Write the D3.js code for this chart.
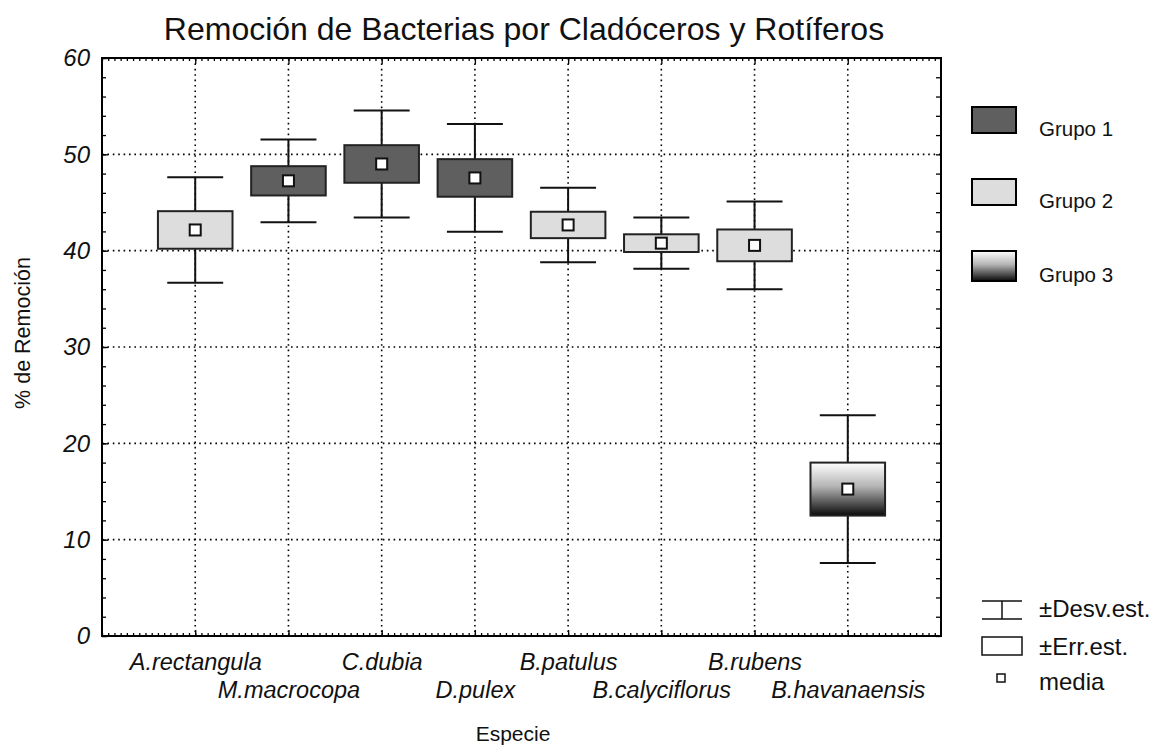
<!DOCTYPE html>
<html>
<head>
<meta charset="utf-8">
<script src="https://cdn.jsdelivr.net/npm/d3@7"></script>
<style>
  body { margin: 0; background: #fff; }
  text { font-family: "Liberation Sans", Arial, Helvetica, sans-serif; fill: #111; }
</style>
</head>
<body>
<div id="chart"></div>
<script>
// data
const species = ["A.rectangula", "M.macrocopa", "C.dubia", "D.pulex",
  "B.patulus", "B.calyciflorus", "B.rubens", "B.havanaensis"];
const means = [42.15, 47.25, 49.0, 47.55, 42.67, 40.78, 40.55, 15.25];
const errEst = [1.95, 1.52, 1.95, 1.95, 1.37, 0.92, 1.65, 2.75];
const desvEst = [5.47, 4.29, 5.55, 5.59, 3.87, 2.65, 4.55, 7.66];
const groups = [2, 1, 1, 1, 2, 2, 2, 3];
const groupLabels = ["Grupo 1", "Grupo 2", "Grupo 3"];
const statLabels = ["±Desv.est.", "±Err.est.", "media"];
const yTicks = [0, 10, 20, 30, 40, 50, 60];

const width = 1158, height = 748;
const margin = { top: 58, right: 217, bottom: 112, left: 102 };
const plotW = width - margin.left - margin.right;
const plotH = height - margin.top - margin.bottom;

const svg = d3.select("#chart").append("svg")
  .attr("width", width)
  .attr("height", height);

// gradient for group 3
const defs = svg.append("defs");
const grad = defs.append("linearGradient")
  .attr("id", "g3").attr("x1", 0).attr("y1", 0).attr("x2", 0).attr("y2", 1);
grad.append("stop").attr("offset", "0%").attr("stop-color", "#ffffff");
grad.append("stop").attr("offset", "45%").attr("stop-color", "#b4b4b4");
grad.append("stop").attr("offset", "100%").attr("stop-color", "#0a0a0a");

const fills = { 1: "#5f5f5f", 2: "#dddddd", 3: "url(#g3)" };

const g = svg.append("g")
  .attr("transform", "translate(" + margin.left + "," + margin.top + ")");

const x = d3.scalePoint().domain(species).range([0, plotW]).padding(1);
const y = d3.scaleLinear().domain([0, 60]).range([plotH, 0]);

// dotted grid
g.append("g").selectAll("line")
  .data(yTicks.filter(d => d > 0 && d < 60))
  .enter().append("line")
  .attr("x1", 0).attr("x2", plotW)
  .attr("y1", d => y(d)).attr("y2", d => y(d))
  .attr("stroke", "#000").attr("stroke-width", 1.6)
  .attr("stroke-dasharray", "1.6,3.8");
g.append("g").selectAll("line")
  .data(species)
  .enter().append("line")
  .attr("x1", d => x(d)).attr("x2", d => x(d))
  .attr("y1", 0).attr("y2", plotH)
  .attr("stroke", "#000").attr("stroke-width", 1.6)
  .attr("stroke-dasharray", "1.6,3.8");

// axes (ticks pointing inward)
const yMinor = d3.range(0, 61, 2);
const xMinor = d3.range(0, plotW, x.step() / 15);
const xm = d3.scaleLinear().domain([0, plotW]).range([0, plotW]);

const left = g.append("g")
  .call(d3.axisLeft(y).tickValues(yTicks).tickSizeInner(-6).tickSizeOuter(0).tickPadding(12));
left.selectAll("text")
  .style("font-size", "24px").style("font-style", "italic");
g.append("g")
  .call(d3.axisLeft(y).tickValues(yMinor).tickSize(-4).tickFormat(""));
g.append("g").attr("transform", "translate(" + plotW + ",0)")
  .call(d3.axisRight(y).tickValues(yMinor).tickSize(-5).tickFormat(""));

const bottom = g.append("g").attr("transform", "translate(0," + plotH + ")")
  .call(d3.axisBottom(x).tickSizeInner(-6).tickSizeOuter(0));
bottom.selectAll("text")
  .style("font-size", "23.5px").style("font-style", "italic")
  .attr("dy", null)
  .attr("y", (d, i) => i % 2 === 0 ? 34 : 62);
g.append("g").attr("transform", "translate(0," + plotH + ")")
  .call(d3.axisBottom(xm).tickValues(xMinor).tickSize(-3).tickFormat(""));
g.append("g")
  .call(d3.axisTop(x).tickSize(-6).tickFormat(""));
g.append("g")
  .call(d3.axisTop(xm).tickValues(xMinor).tickSize(-3).tickFormat(""));

g.selectAll(".domain").remove();
g.selectAll(".tick line").attr("stroke", "#000").attr("stroke-width", 1.3);

// frame
g.append("rect")
  .attr("width", plotW).attr("height", plotH)
  .attr("fill", "none").attr("stroke", "#000").attr("stroke-width", 2);

// boxes
const boxW = x.step() * 0.8;
const capW = x.step() * 0.6;
const items = g.append("g").selectAll("g")
  .data(species.map((s, i) => ({ s: s, m: means[i], se: errEst[i], sd: desvEst[i], grp: groups[i] })))
  .enter().append("g");

items.append("line")
  .attr("x1", d => x(d.s)).attr("x2", d => x(d.s))
  .attr("y1", d => y(d.m + d.sd)).attr("y2", d => y(d.m - d.sd))
  .attr("stroke", "#111").attr("stroke-width", 2);
items.append("line")
  .attr("x1", d => x(d.s) - capW / 2).attr("x2", d => x(d.s) + capW / 2)
  .attr("y1", d => y(d.m + d.sd)).attr("y2", d => y(d.m + d.sd))
  .attr("stroke", "#111").attr("stroke-width", 2);
items.append("line")
  .attr("x1", d => x(d.s) - capW / 2).attr("x2", d => x(d.s) + capW / 2)
  .attr("y1", d => y(d.m - d.sd)).attr("y2", d => y(d.m - d.sd))
  .attr("stroke", "#111").attr("stroke-width", 2);
items.append("rect")
  .attr("x", d => x(d.s) - boxW / 2)
  .attr("y", d => y(d.m + d.se))
  .attr("width", boxW)
  .attr("height", d => y(d.m - d.se) - y(d.m + d.se))
  .attr("fill", d => fills[d.grp])
  .attr("stroke", "#222").attr("stroke-width", 2);
items.append("rect")
  .attr("x", d => x(d.s) - 5.5).attr("y", d => y(d.m) - 5.5)
  .attr("width", 11).attr("height", 11)
  .attr("fill", "#fff").attr("stroke", "#111").attr("stroke-width", 2);

// titles
svg.append("text")
  .attr("x", 524).attr("y", 40)
  .attr("text-anchor", "middle")
  .style("font-size", "32px")
  .text("Remoción de Bacterias por Cladóceros y Rotíferos");
svg.append("text")
  .attr("transform", "translate(30," + 333 + ") rotate(-90)")
  .attr("text-anchor", "middle")
  .style("font-size", "21.5px")
  .text("% de Remoción");
svg.append("text")
  .attr("x", 513).attr("y", 741)
  .attr("text-anchor", "middle")
  .style("font-size", "21px")
  .text("Especie");

// group legend
const leg = svg.append("g").attr("transform", "translate(972,107)");
const legItems = leg.selectAll("g")
  .data(groupLabels)
  .enter().append("g")
  .attr("transform", (d, i) => "translate(0," + i * 72 + ")");
legItems.append("rect")
  .attr("width", 44).attr("height", (d, i) => i === 2 ? 30 : 26)
  .attr("fill", (d, i) => fills[i + 1])
  .attr("stroke", "#000").attr("stroke-width", 2);
legItems.append("text")
  .attr("x", 67).attr("y", (d, i) => i === 2 ? 31 : 29)
  .style("font-size", "20.5px")
  .text(d => d);

// statistic legend
const leg2 = svg.append("g").attr("transform", "translate(982,0)");
leg2.append("line").attr("x1", 0).attr("x2", 40).attr("y1", 601).attr("y2", 601)
  .attr("stroke", "#111").attr("stroke-width", 1.5);
leg2.append("line").attr("x1", 0).attr("x2", 40).attr("y1", 619).attr("y2", 619)
  .attr("stroke", "#111").attr("stroke-width", 1.5);
leg2.append("line").attr("x1", 20).attr("x2", 20).attr("y1", 601).attr("y2", 619)
  .attr("stroke", "#111").attr("stroke-width", 1.5);
leg2.append("rect").attr("x", 0).attr("y", 637).attr("width", 40).attr("height", 18)
  .attr("fill", "#fff").attr("stroke", "#111").attr("stroke-width", 1.5);
leg2.append("rect").attr("x", 15).attr("y", 674).attr("width", 8).attr("height", 8)
  .attr("fill", "#fff").attr("stroke", "#111").attr("stroke-width", 1.5);
leg2.selectAll("text.lbl")
  .data(statLabels)
  .enter().append("text")
  .attr("x", 57).attr("y", (d, i) => [617, 655, 690][i])
  .style("font-size", "24px")
  .text(d => d);
</script>
</body>
</html>
